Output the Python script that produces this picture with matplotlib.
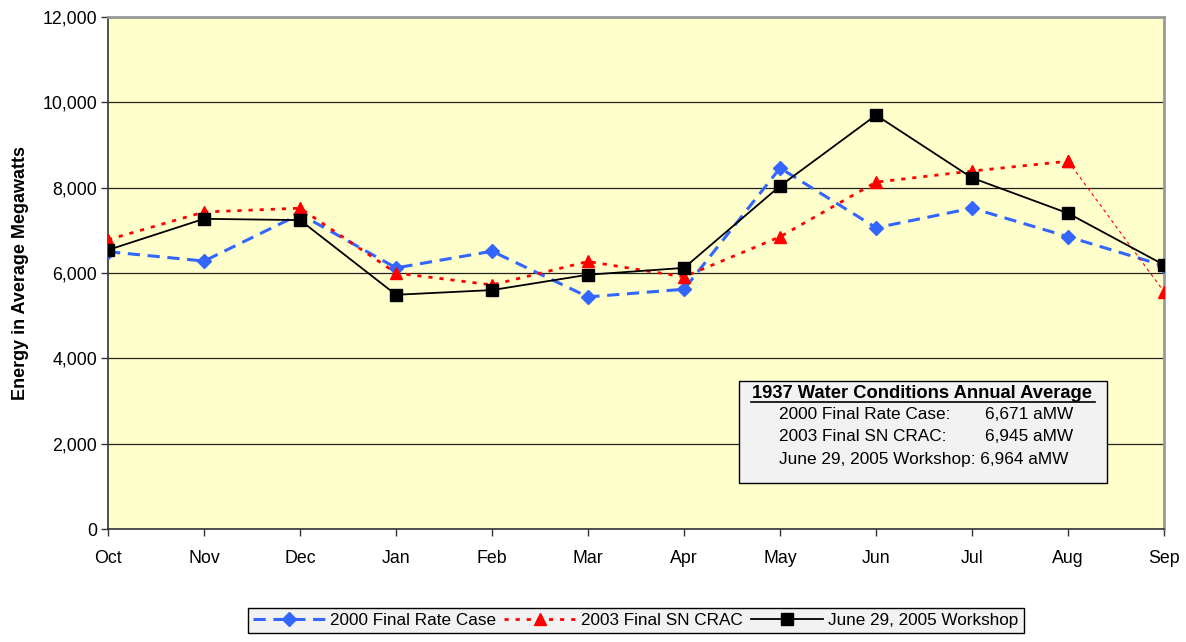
#!/usr/bin/env python3

import matplotlib
matplotlib.use('Agg')
import matplotlib.pyplot as plt
from matplotlib.patches import Rectangle
from matplotlib.ticker import FuncFormatter

months = ['Oct', 'Nov', 'Dec', 'Jan', 'Feb', 'Mar', 'Apr', 'May', 'Jun', 'Jul', 'Aug', 'Sep']

rate_case_2000 = [6500, 6280, 7380, 6120, 6510, 5440, 5620, 8460, 7060, 7520, 6850, 6170]
sn_crac_2003 = [6780, 7430, 7520, 6000, 5720, 6270, 5910, 6850, 8130, 8390, 8620, 5560]
workshop_2005 = [6540, 7270, 7240, 5490, 5600, 5960, 6120, 8040, 9700, 8230, 7400, 6190]

box_title = '1937 Water Conditions Annual Average'
box_labels = ['2000 Final Rate Case:', '2003 Final SN CRAC:', 'June 29, 2005 Workshop:']
box_values = ['6,671 aMW', '6,945 aMW', '6,964 aMW']

plt.rcParams['font.family'] = ['Liberation Sans', 'DejaVu Sans']


def main():
    fig = plt.figure(figsize=(11.86, 6.42), dpi=100)
    ax = fig.add_axes([0.0911, 0.176, 0.8904, 0.7975])
    ax.set_facecolor('#FFFFCC')

    x = list(range(len(months)))

    ax.plot(x, rate_case_2000, color='#3366FF', lw=2.2, ls=(0, (4, 2.5)),
            marker='D', ms=7, mec='#3366FF', mfc='#3366FF', zorder=3,
            label='2000 Final Rate Case')
    # red series: thin segment at the end like in the original
    ax.plot(x[:-1], sn_crac_2003[:-1], color='red', lw=2, ls=(0, (1.5, 2.5)),
            marker='^', ms=9, zorder=4, label='2003 Final SN CRAC')
    ax.plot(x[-2:], sn_crac_2003[-2:], color='red', lw=0.8, ls=(0, (3, 3)),
            marker='^', ms=9, zorder=4)
    ax.plot(x, workshop_2005, color='black', lw=1.3, marker='s', ms=8,
            zorder=5, label='June 29, 2005 Workshop')

    ax.set_xlim(0, len(months) - 1)
    ax.set_ylim(0, 12000)
    ax.set_xticks(x)
    ax.set_xticklabels(months)
    ax.set_yticks(range(0, 12001, 2000))
    ax.yaxis.set_major_formatter(FuncFormatter(lambda v, p: f'{int(v):,}'))
    ax.tick_params(axis='both', labelsize=12.8, direction='out', length=5,
                   width=1, colors='#333333', labelcolor='black')
    ax.tick_params(axis='x', pad=10)
    ax.tick_params(axis='y', pad=3)
    ax.grid(axis='y', color='#222222', lw=0.9)
    ax.set_axisbelow(True)

    for side in ['top', 'right']:
        ax.spines[side].set_color('#999999')
        ax.spines[side].set_linewidth(2)
    for side in ['left', 'bottom']:
        ax.spines[side].set_color('#333333')
        ax.spines[side].set_linewidth(1.2)

    ax.set_ylabel('Energy in Average Megawatts', fontsize=13, fontweight='bold')
    ax.yaxis.set_label_coords(-0.075, 0.5)

    # annotation box
    box = Rectangle((0.5975, 0.0898), 0.3485, 0.199, transform=ax.transAxes,
                    facecolor='#F2F2F2', edgecolor='black', lw=1, zorder=6)
    ax.add_patch(box)
    ax.text(0.771, 0.2656, box_title, transform=ax.transAxes, ha='center',
            va='center', fontsize=13.2, fontweight='bold', zorder=7)
    ax.plot([0.6085, 0.9345], [0.2475, 0.2475], transform=ax.transAxes,
            color='black', lw=1.2, zorder=7)
    rows_y = [0.2246, 0.1816, 0.1367]
    for lab, val, yy in zip(box_labels, box_values, rows_y):
        if lab.startswith('June'):
            ax.text(0.6355, yy, lab + ' ' + val, transform=ax.transAxes,
                    ha='left', va='center', fontsize=12.4, zorder=7)
        else:
            ax.text(0.6355, yy, lab, transform=ax.transAxes, ha='left',
                    va='center', fontsize=12.4, zorder=7)
            ax.text(0.8305, yy, val, transform=ax.transAxes, ha='left',
                    va='center', fontsize=12.4, zorder=7)

    leg = fig.legend(loc='lower center', bbox_to_anchor=(0.536, 0.0), ncol=3,
                     fontsize=12.3, frameon=True, fancybox=False, handlelength=4.2,
                     columnspacing=0.5, handletextpad=0.3, borderpad=0.3)
    leg.get_frame().set_facecolor('#F2F2F2')
    leg.get_frame().set_edgecolor('black')
    leg.get_frame().set_linewidth(1)
    leg.get_frame().set_alpha(1)

    fig.savefig('out.png', dpi=100)


if __name__ == '__main__':
    main()
